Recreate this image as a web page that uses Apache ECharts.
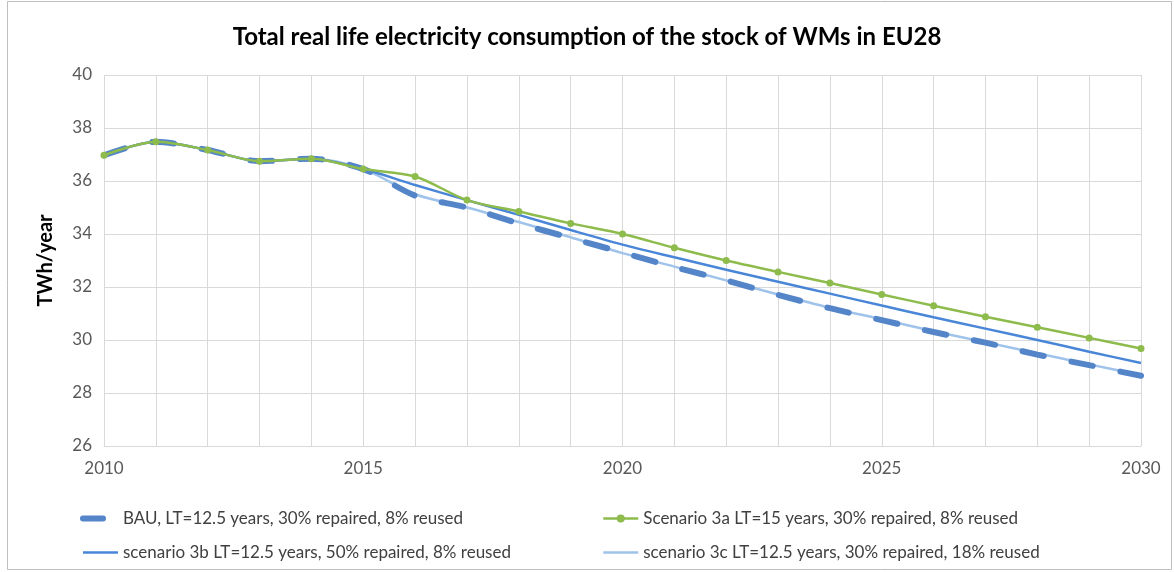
<!DOCTYPE html>
<html>
<head>
<meta charset="utf-8">
<title>Total real life electricity consumption of the stock of WMs in EU28</title>
<script src="https://cdn.jsdelivr.net/npm/echarts@6/dist/echarts.min.js"></script>
<style>
  html, body { margin: 0; padding: 0; background: #fff; }
  #chart { width: 1174px; height: 572px; }
</style>
</head>
<body>
<div id="chart"></div>
<script>
// years on the x axis
var years = ['2010', '2011', '2012', '2013', '2014', '2015', '2016', '2017', '2018', '2019',
  '2020', '2021', '2022', '2023', '2024', '2025', '2026', '2027', '2028', '2029', '2030'];

// BAU, LT=12.5 years, 30% repaired, 8% reused
var bau = [36.97, 37.48, 37.17, 36.75, 36.84, 36.45, 35.45, 35.0, 34.4, 33.85,
  33.3, 32.75, 32.25, 31.7, 31.2, 30.75, 30.3, 29.9, 29.45, 29.05, 28.65];
// Scenario 3a LT=15 years
var sc3a = [36.97, 37.48, 37.17, 36.75, 36.84, 36.45, 36.17, 35.28, 34.85, 34.4,
  34.0, 33.48, 33.0, 32.57, 32.15, 31.72, 31.29, 30.88, 30.48, 30.08, 29.68];
// scenario 3b LT=12.5 years, 50% repaired
var sc3b = [36.97, 37.48, 37.17, 36.75, 36.84, 36.45, 35.85, 35.28, 34.72, 34.15,
  33.6, 33.12, 32.65, 32.2, 31.75, 31.3, 30.86, 30.43, 30.0, 29.56, 29.13];
// scenario 3c LT=12.5 years, 18% reused
var sc3c = [36.97, 37.48, 37.17, 36.75, 36.84, 36.45, 35.5, 35.0, 34.45, 33.88,
  33.28, 32.77, 32.25, 31.72, 31.22, 30.78, 30.33, 29.92, 29.5, 29.08, 28.68];

var yTicks = { min: 26, max: 40, step: 2 };

var names = {
  bau: 'BAU, LT=12.5 years, 30% repaired, 8% reused',
  sc3a: 'Scenario 3a LT=15 years, 30% repaired, 8% reused',
  sc3b: 'scenario 3b LT=12.5 years, 50% repaired, 8% reused',
  sc3c: 'scenario 3c LT=12.5 years, 30% repaired, 18% reused'
};

var fontFam = 'Lato, "Open Sans", sans-serif';
var chart = echarts.init(document.getElementById('chart'));

// legend look shared by both columns
var legendBase = {
  orient: 'vertical',
  top: 505,
  itemGap: 17,
  itemWidth: 35,
  itemHeight: 10,
  lineStyle: { width: 'inherit' },
  textStyle: { fontFamily: fontFam, fontSize: 17, color: '#404040' }
};

var option = {
  backgroundColor: '#fff',
  animation: false,
  textStyle: { fontFamily: fontFam },
  title: {
    text: 'Total real life electricity consumption of the stock of WMs in EU28',
    left: 'center',
    top: 20,
    textStyle: { fontFamily: fontFam, fontSize: 24, fontWeight: 'bold', color: '#000' }
  },
  graphic: [{
    type: 'rect',
    shape: { x: 7.5, y: 1.5, width: 1164, height: 568 },
    style: { fill: 'none', stroke: '#bfbfbf', lineWidth: 1 },
    silent: true
  }],
  grid: { left: 104, right: 33, top: 75, bottom: 126 },
  legend: [
    Object.assign({}, legendBase, {
      left: 75,
      data: [
        { name: names.bau, itemStyle: { opacity: 0 }, lineStyle: { width: 6, type: [20, 60], cap: 'round' } },
        { name: names.sc3b, itemStyle: { opacity: 0 } }
      ]
    }),
    Object.assign({}, legendBase, {
      left: 597,
      data: [
        { name: names.sc3a },
        { name: names.sc3c, itemStyle: { opacity: 0 } }
      ]
    })
  ],
  xAxis: {
    type: 'category',
    data: years,
    boundaryGap: false,
    axisLine: { lineStyle: { color: '#d9d9d9' } },
    axisTick: { show: false },
    axisLabel: { interval: 4, color: '#595959', fontSize: 17, margin: 14 },
    splitLine: { show: true, interval: 0, lineStyle: { color: '#d9d9d9' } }
  },
  yAxis: {
    type: 'value',
    min: yTicks.min,
    max: yTicks.max,
    interval: yTicks.step,
    name: 'TWh/year',
    nameLocation: 'middle',
    nameGap: 48,
    nameTextStyle: { fontFamily: fontFam, fontSize: 20, fontWeight: 'bold', color: '#000' },
    axisLine: { show: false },
    axisTick: { show: false },
    axisLabel: { color: '#595959', fontSize: 17, margin: 12 },
    splitLine: { lineStyle: { color: '#d9d9d9' } }
  },
  series: [{
    name: names.sc3c,
    type: 'line',
    data: sc3c,
    smooth: 0.3,
    symbol: 'none',
    z: 2,
    itemStyle: { color: '#9fc3ea' },
    lineStyle: { color: '#9fc3ea', width: 2.5 }
  }, {
    name: names.bau,
    type: 'line',
    data: bau,
    smooth: 0.3,
    symbol: 'none',
    z: 3,
    itemStyle: { color: '#5585c9' },
    lineStyle: { color: '#5585c9', width: 6, type: [22, 28], cap: 'round' }
  }, {
    name: names.sc3b,
    type: 'line',
    data: sc3b,
    smooth: 0.3,
    symbol: 'none',
    z: 4,
    itemStyle: { color: '#4a86d8' },
    lineStyle: { color: '#4a86d8', width: 2.5 }
  }, {
    name: names.sc3a,
    type: 'line',
    data: sc3a,
    smooth: 0.3,
    symbol: 'circle',
    symbolSize: 7,
    showSymbol: true,
    z: 5,
    itemStyle: { color: '#8dbb4c' },
    lineStyle: { color: '#8dbb4c', width: 2.5 }
  }]
};

chart.setOption(option);
</script>
</body>
</html>
